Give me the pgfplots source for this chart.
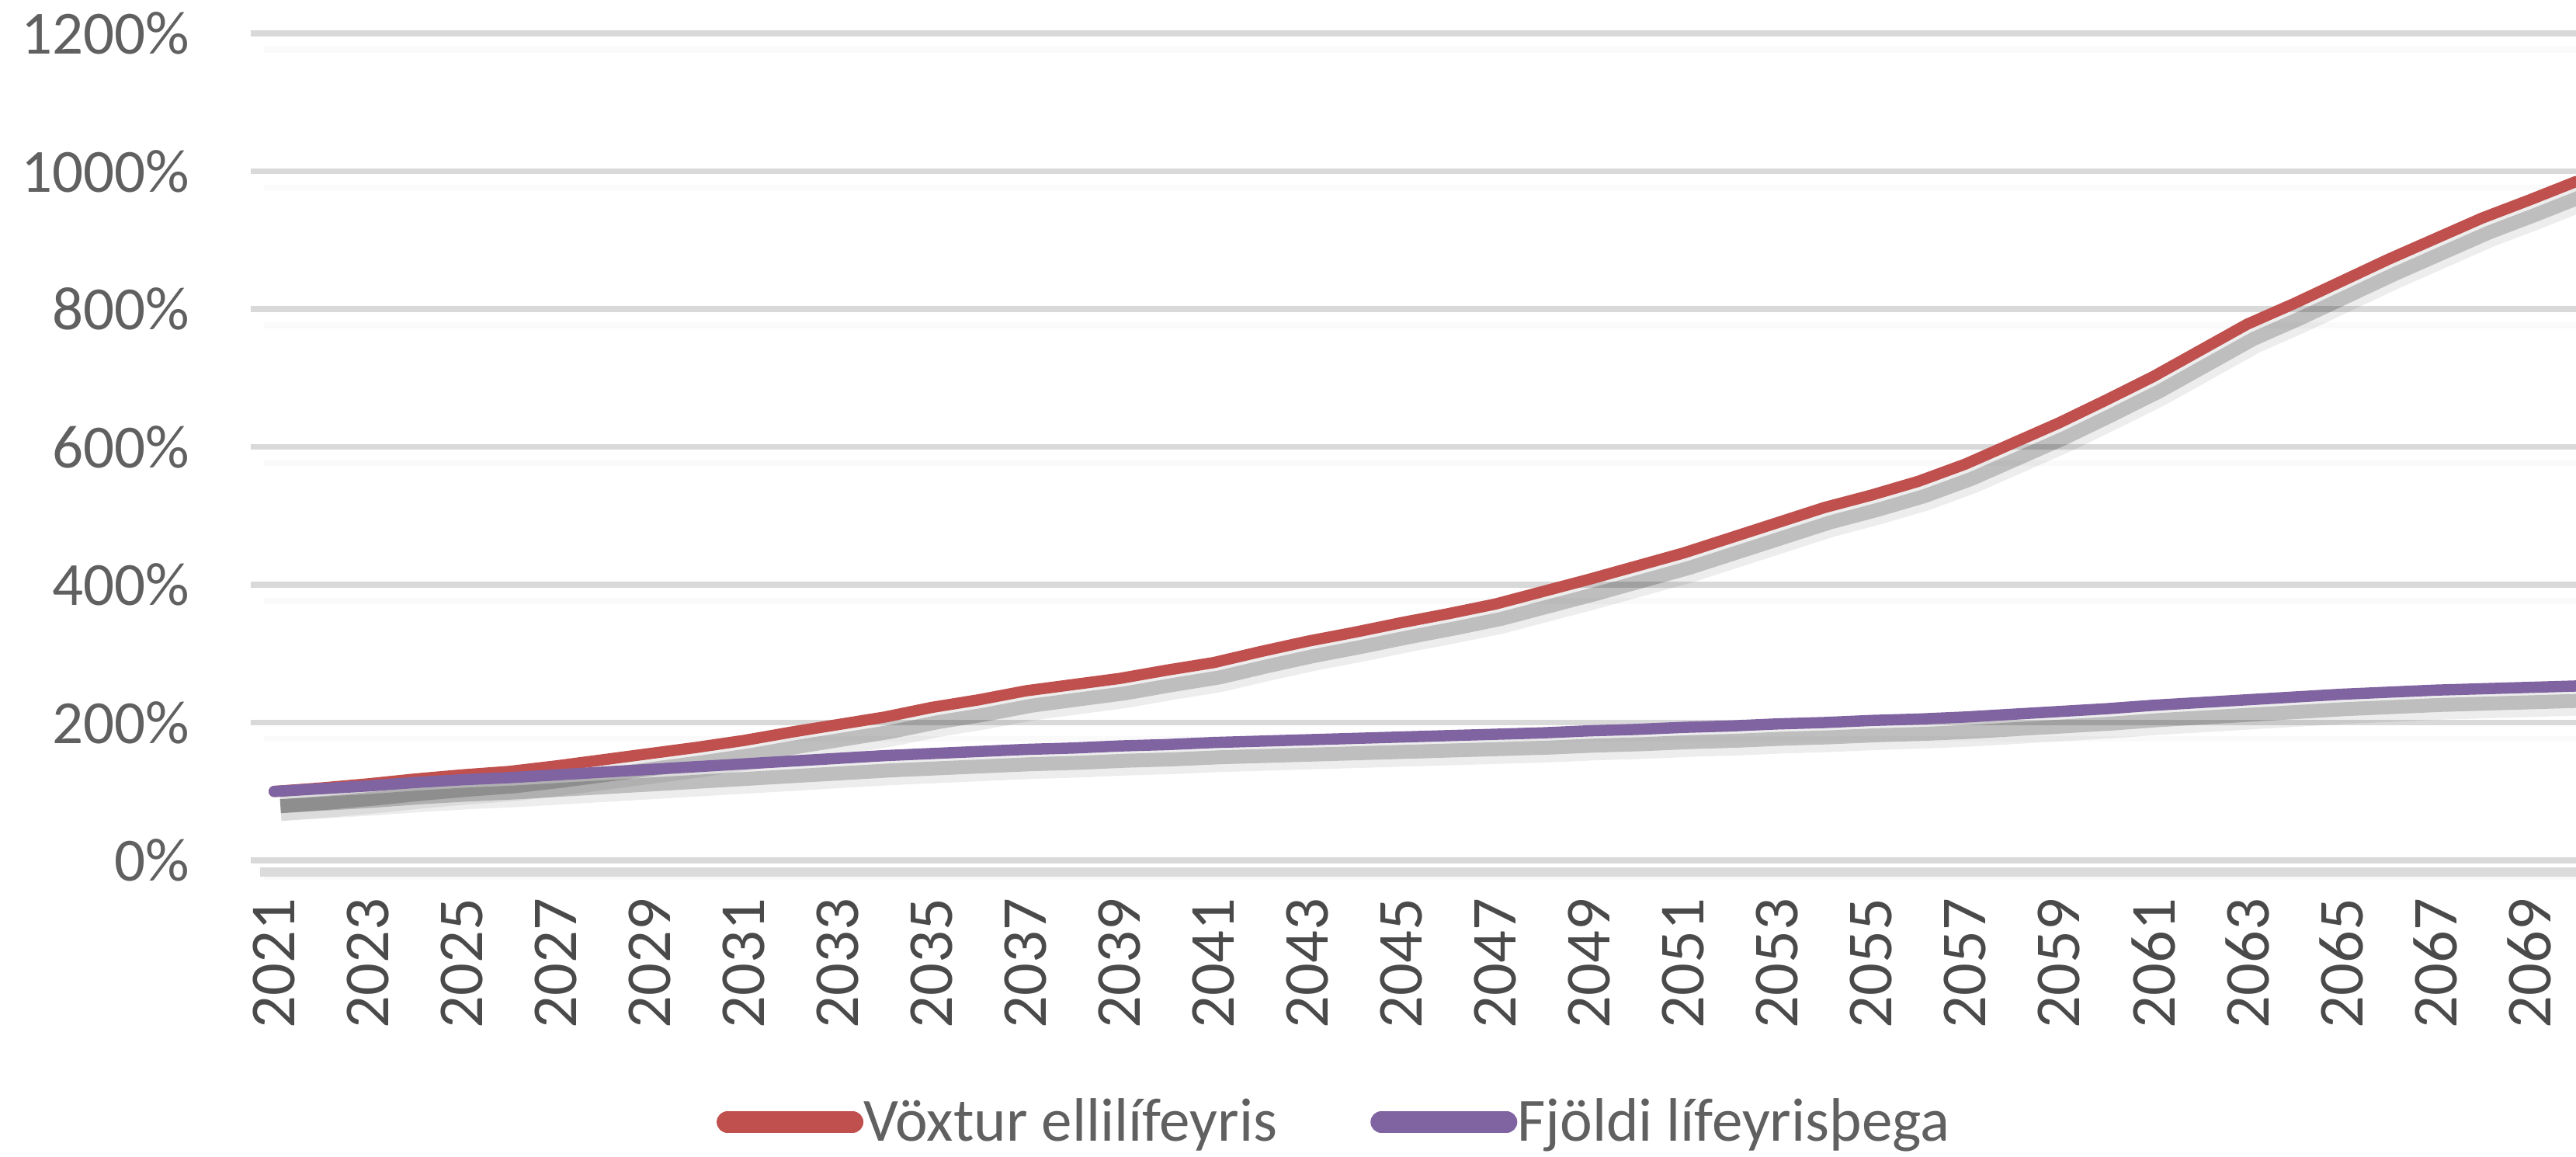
\documentclass[border=0pt]{standalone}
\usepackage{pgfplots}
\pgfplotsset{compat=1.18}
\usepackage{pgfplotstable}
\usepackage{fontspec}
\setmainfont{Carlito}
\definecolor{cred}{HTML}{C0504D}
\definecolor{cpurple}{HTML}{8064A2}
\definecolor{tickgray}{HTML}{606060}
\definecolor{xtickgray}{HTML}{4A4A4A}
\definecolor{gridgray}{HTML}{D9D9D9}

\pgfplotstableread{
year red purple
2021 100 100
2022 105 104
2023 111 108
2024 118 113
2025 124 117
2026 129 120
2027 137 124
2028 146 128
2029 155 132
2030 164 136
2031 174 140
2032 186 144
2033 197 148
2034 208 152
2035 222 155
2036 233 158
2037 246 161
2038 255 163
2039 264 166
2040 276 168
2041 287 171
2042 303 173
2043 318 175
2044 331 177
2045 345 179
2046 358 181
2047 372 183
2048 390 185
2049 408 188
2050 427 190
2051 446 193
2052 468 195
2053 490 198
2054 512 200
2055 530 203
2056 550 205
2057 575 208
2058 605 212
2059 635 216
2060 668 220
2061 702 225
2062 740 229
2063 778 233
2064 808 237
2065 840 241
2066 872 244
2067 902 247
2068 932 249
2069 958 251
2070 985 253
}\datatable

\begin{document}
\begin{tikzpicture}
\path[use as bounding box] (0,0) rectangle (331.8mm,149mm);
\begin{axis}[
  at={(32.3mm,38.2mm)}, anchor=south west,
  scale only axis, width=299.5mm, height=106.5mm,
  xmin=2020.5, xmax=2070.0, ymin=0, ymax=1200,
  xtick={2021,2023,...,2069},
  xticklabels={2021,2023,2025,2027,2029,2031,2033,2035,2037,2039,2041,2043,2045,2047,2049,2051,2053,2055,2057,2059,2061,2063,2065,2067,2069},
  ytick={0,200,...,1200},
  yticklabels={0\%,200\%,400\%,600\%,800\%,1000\%,1200\%},
  extra y ticks={0,200,400,...,1200},
  extra y tick labels={},
  extra y tick style={grid style={draw=black, opacity=0.13, line width=1.8mm, yshift=-2.1mm, xshift=1.7mm}},
  ymajorgrids,
  major grid style={draw=gridgray, line width=0.75mm},
  major tick length=0pt,
  axis x line*=bottom, axis y line*=left,
  x axis line style={draw=black, opacity=0.14, line width=1.2mm, yshift=-1.5mm, xshift=1.2mm},
  y axis line style={draw=none},
  tick style={draw=none},
  xticklabel style={rotate=90, anchor=east, inner sep=0pt, font=\fontsize{23.5}{25}\selectfont, text=xtickgray},
  xticklabel shift=4.8mm,
  yticklabel style={anchor=east, inner sep=0pt, font=\fontsize{22.5}{25}\selectfont, text=tickgray},
  yticklabel shift=7.8mm,
  clip=true,
  legend style={at={(axis description cs:0.4655,-0.3164)}, anchor=center, draw=none, fill=none,
    legend columns=2, font=\fontsize{22.5}{25}\selectfont, text=tickgray,
    /tikz/every even column/.append style={column sep=12mm},
    nodes={inner sep=0pt}},
  legend image code/.code={\draw[#1, line width=2.8mm, line cap=round] (0.9mm,0mm) -- (17mm,0mm);},
]
% shadows
\addplot[forget plot, draw=black, opacity=0.07, line width=3.8mm, line join=round, xshift=0.8mm, yshift=-1.9mm] table[x=year,y=red] {\datatable};
\addplot[forget plot, draw=black, opacity=0.2, line width=1.8mm, line join=round, xshift=0.8mm, yshift=-1.9mm] table[x=year,y=red] {\datatable};
\addplot[forget plot, draw=black, opacity=0.07, line width=3.8mm, line join=round, xshift=0.8mm, yshift=-1.9mm] table[x=year,y=purple] {\datatable};
\addplot[forget plot, draw=black, opacity=0.2, line width=1.8mm, line join=round, xshift=0.8mm, yshift=-1.9mm] table[x=year,y=purple] {\datatable};
% series
\addplot[draw=cred, line width=1.45mm, line join=round, line cap=round] table[x=year,y=red] {\datatable};
\addlegendentry{Vöxtur ellilífeyris\hspace{1.5mm}}
\addplot[draw=cpurple, line width=1.45mm, line join=round, line cap=round] table[x=year,y=purple] {\datatable};
\addlegendentry{Fjöldi lífeyrisþega}
\end{axis}
\end{tikzpicture}
\end{document}
